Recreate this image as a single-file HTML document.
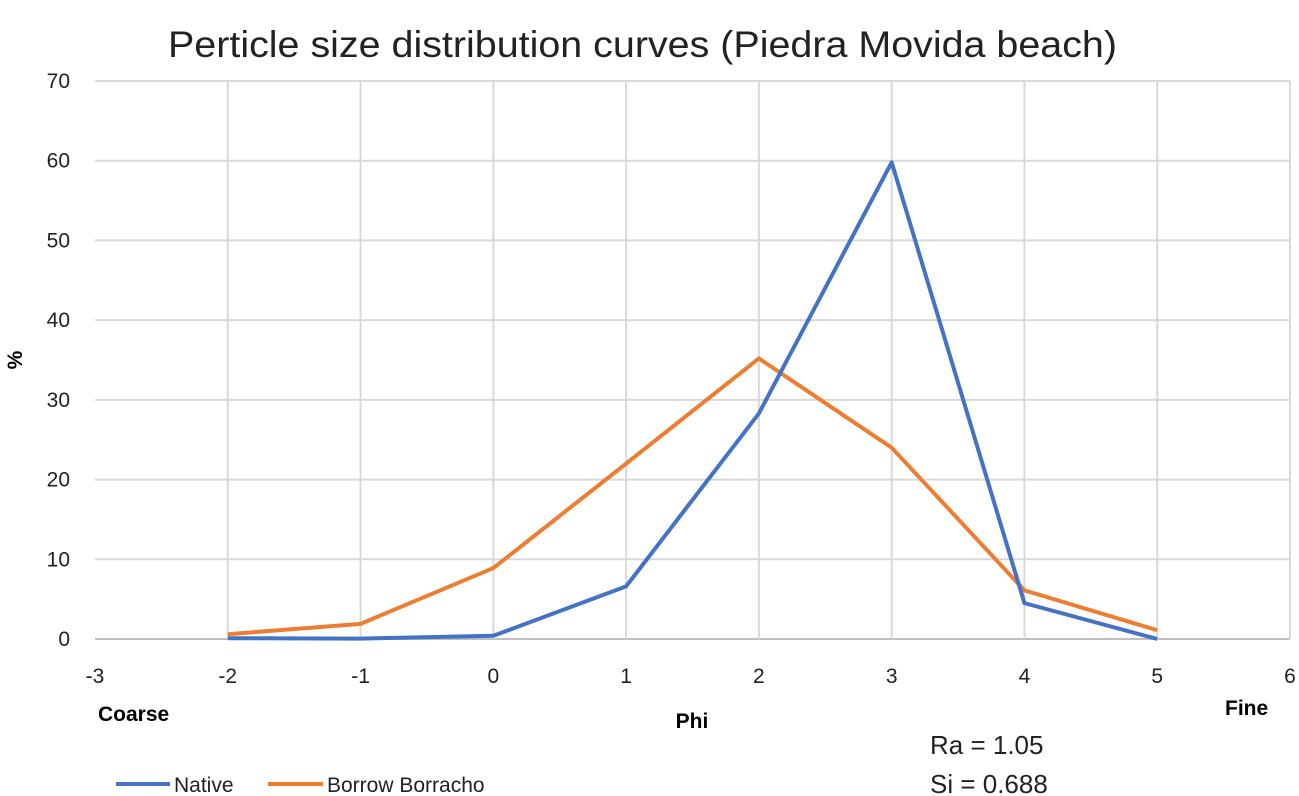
<!DOCTYPE html>
<html><head><meta charset="utf-8"><style>
body{margin:0;background:#fff;}
svg{display:block;font-family:"Liberation Sans",sans-serif;}
</style></head><body>
<svg id="chart" width="1299" height="796" viewBox="0 0 1299 796">
<text x="168" y="57" font-size="37" fill="#222" textLength="949" lengthAdjust="spacingAndGlyphs">Perticle size distribution curves (Piedra Movida beach)</text>
<g id="grid"></g>
<g id="ticks"></g>
<g id="series"></g>
<text x="22" y="360" font-size="21" font-weight="bold" transform="rotate(-90 22 360)" text-anchor="middle">%</text>
<text x="692" y="728" font-size="21" font-weight="bold" text-anchor="middle">Phi</text>
<text x="98" y="721" font-size="21" font-weight="bold">Coarse</text>
<text x="1225" y="715" font-size="21" font-weight="bold">Fine</text>
<text x="930" y="754" font-size="26" fill="#222">Ra = 1.05</text>
<text x="930" y="793" font-size="26" fill="#222">Si = 0.688</text>
<g>
<line x1="116" y1="784" x2="170" y2="784" stroke="#4472C4" stroke-width="4"/>
<text x="174" y="792" font-size="21" fill="#222">Native</text>
<line x1="268" y1="784" x2="323" y2="784" stroke="#ED7D31" stroke-width="4"/>
<text x="327" y="792" font-size="21" fill="#222">Borrow Borracho</text>
</g>
</svg>
<script>
const xTicks = [-3,-2,-1,0,1,2,3,4,5,6];
const yTicks = [0,10,20,30,40,50,60,70];
const phi = [-2,-1,0,1,2,3,4,5];
const nativeValues = [0.1,0.05,0.4,6.6,28.3,59.8,4.5,0];
const borrowValues = [0.6,1.9,8.9,22,35.2,24,6.1,1.1];
const NS="http://www.w3.org/2000/svg";
const X0=95,X1=1290,Y0=639,Y1=81;
const xs=v=>X0+(v-(-3))/(9)*(X1-X0);
const ys=v=>Y0-(v/70)*(Y0-Y1);
const grid=document.getElementById('grid'),ticks=document.getElementById('ticks'),series=document.getElementById('series');
function mk(t,a){const e=document.createElementNS(NS,t);for(const k in a)e.setAttribute(k,a[k]);return e;}
yTicks.forEach(v=>{
 const l=mk('line',{x1:X0,x2:X1,y1:ys(v),y2:ys(v),stroke:v===0?'#bfbfbf':'#d9d9d9','stroke-width':2});
 
 
 grid.appendChild(l);
 const t=mk('text',{x:70,y:ys(v)+7,'font-size':21,'text-anchor':'end',fill:'#222'});t.textContent=v;
 
 
 ticks.appendChild(t);
});
xTicks.forEach((v,i)=>{
 if(i>0){
 const l=mk('line',{x1:xs(v),x2:xs(v),y1:Y1,y2:Y0,stroke:'#d9d9d9','stroke-width':2});
 
 
 grid.appendChild(l);
 }
 const t=mk('text',{x:xs(v),y:683,'font-size':21,'text-anchor':'middle',fill:'#222'});t.textContent=v;
 
 
 ticks.appendChild(t);
});
function line(vals,color,name){
 const p=mk('polyline',{points:phi.map((x,i)=>xs(x)+','+ys(vals[i])).join(' '),fill:'none',stroke:color,'stroke-width':4,'stroke-linejoin':'round'});
 
 
 series.appendChild(p);
}
line(borrowValues,'#ED7D31','borrow-borracho-line');
line(nativeValues,'#4472C4','native-line');
</script>
</body></html>
